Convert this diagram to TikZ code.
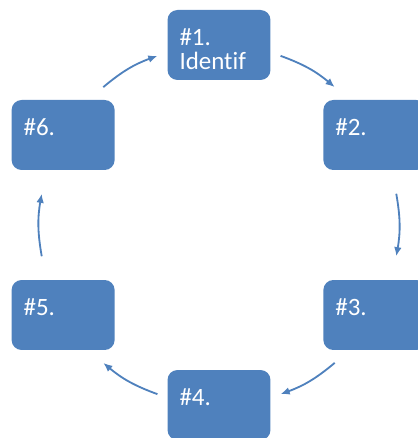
\documentclass[tikz,border=0pt]{standalone}
\usepackage{fontspec}
\setmainfont{Carlito}[Ligatures=NoCommon]
\usetikzlibrary{arrows.meta}
\definecolor{stageblue}{HTML}{4F81BD}
\tikzset{
  stage/.style={fill=stageblue, rounded corners=0.5cm, minimum width=5.15cm, minimum height=3.5cm},
  stagetext/.style={text=white, align=left, inner sep=0pt, anchor=north west, font=\fontsize{35.5}{33}\selectfont},
  cyclearrow/.style={draw=stageblue, line width=2.6pt, -{Latex[length=13pt,width=11pt]}}
}
\begin{document}
\begin{tikzpicture}[x=0.05cm, y=0.05cm]
  \useasboundingbox (-219,-213) rectangle (198,225);
  % boxes round the cycle
  \foreach \i/\a/\t in {1/90/{\#1.\\Identif}, 2/30/\#2., 3/-30/\#3., 4/-90/\#4., 5/-150/\#5., 6/150/\#6.}{
    \node[stage] (s\i) at (\a:180) {};
    \node[stagetext] (t\i) at ([xshift=0.6cm, yshift=-0.95cm]s\i.north west) {\t};
  }
  % arrows between them
  \foreach \i/\a in {1/60, 2/0, 3/-60, 4/-120, 5/-180, 6/120}{
    \coordinate (from\i) at (\a+10:180);
    \coordinate (to\i) at (\a-10:180);
    \draw[cyclearrow] (from\i) to[bend left=10] (to\i);
  }
\end{tikzpicture}
\end{document}
